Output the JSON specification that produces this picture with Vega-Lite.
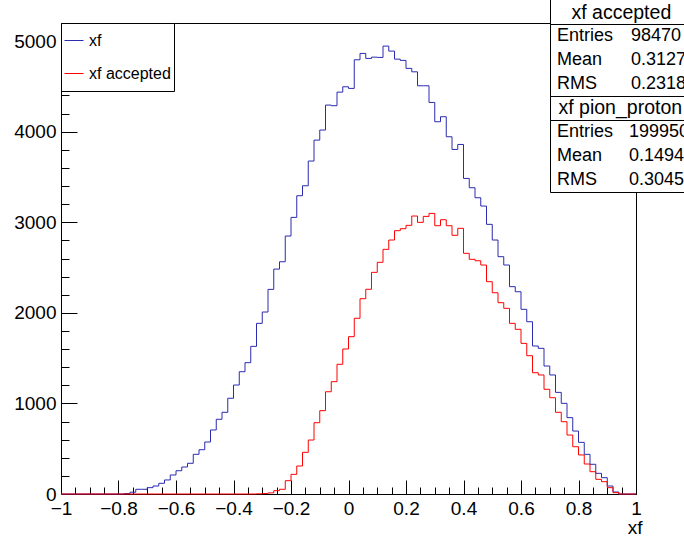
{
  "$schema": "https://vega.github.io/schema/vega-lite/v6.json",
  "width": 575,
  "height": 471,
  "autosize": {"type": "none"},
  "padding": {"left": 61, "top": 23, "right": 48, "bottom": 43},
  "background": "white",
  "config": {"font": "Liberation Sans", "view": {"stroke": "black", "strokeWidth": 1}},
  "data": {"values": [
    {"x": -1, "all": 0, "acc": 0}, {"x": -0.98, "all": 0, "acc": 0}, {"x": -0.96, "all": 0, "acc": 0}, {"x": -0.94, "all": 0, "acc": 0},
    {"x": -0.92, "all": 0, "acc": 0}, {"x": -0.9, "all": 0, "acc": 0}, {"x": -0.88, "all": 0, "acc": 0}, {"x": -0.86, "all": 0, "acc": 0},
    {"x": -0.84, "all": 0, "acc": 0}, {"x": -0.82, "all": 0, "acc": 0}, {"x": -0.8, "all": 0, "acc": 0}, {"x": -0.78, "all": 5, "acc": 0},
    {"x": -0.76, "all": 20, "acc": 0}, {"x": -0.74, "all": 52, "acc": 0}, {"x": -0.72, "all": 52, "acc": 0}, {"x": -0.7, "all": 70, "acc": 0},
    {"x": -0.68, "all": 88, "acc": 0}, {"x": -0.66, "all": 118, "acc": 0}, {"x": -0.64, "all": 155, "acc": 0}, {"x": -0.62, "all": 210, "acc": 0},
    {"x": -0.6, "all": 257, "acc": 0}, {"x": -0.58, "all": 298, "acc": 0}, {"x": -0.56, "all": 339, "acc": 0}, {"x": -0.54, "all": 438, "acc": 0},
    {"x": -0.52, "all": 489, "acc": 0}, {"x": -0.5, "all": 574, "acc": 0}, {"x": -0.48, "all": 707, "acc": 0}, {"x": -0.46, "all": 825, "acc": 0},
    {"x": -0.44, "all": 902, "acc": 0}, {"x": -0.42, "all": 1057, "acc": 0}, {"x": -0.4, "all": 1203, "acc": 0}, {"x": -0.38, "all": 1350, "acc": 0},
    {"x": -0.36, "all": 1450, "acc": 0}, {"x": -0.34, "all": 1630, "acc": 0}, {"x": -0.32, "all": 1884, "acc": 2}, {"x": -0.3, "all": 2009, "acc": 5},
    {"x": -0.28, "all": 2259, "acc": 12}, {"x": -0.26, "all": 2483, "acc": 37}, {"x": -0.24, "all": 2564, "acc": 52}, {"x": -0.22, "all": 2848, "acc": 147},
    {"x": -0.2, "all": 3054, "acc": 217}, {"x": -0.18, "all": 3293, "acc": 309}, {"x": -0.16, "all": 3403, "acc": 460}, {"x": -0.14, "all": 3676, "acc": 596},
    {"x": -0.12, "all": 3907, "acc": 787}, {"x": -0.1, "all": 4018, "acc": 920}, {"x": -0.08, "all": 4294, "acc": 1129}, {"x": -0.06, "all": 4287, "acc": 1240},
    {"x": -0.04, "all": 4437, "acc": 1432}, {"x": -0.02, "all": 4496, "acc": 1601}, {"x": 0, "all": 4478, "acc": 1737}, {"x": 0.02, "all": 4794, "acc": 1940},
    {"x": 0.04, "all": 4864, "acc": 2156}, {"x": 0.06, "all": 4809, "acc": 2260}, {"x": 0.08, "all": 4823, "acc": 2447}, {"x": 0.1, "all": 4820, "acc": 2558},
    {"x": 0.12, "all": 4945, "acc": 2701}, {"x": 0.14, "all": 4890, "acc": 2804}, {"x": 0.16, "all": 4801, "acc": 2907}, {"x": 0.18, "all": 4787, "acc": 2929},
    {"x": 0.2, "all": 4699, "acc": 2966}, {"x": 0.22, "all": 4661, "acc": 3069}, {"x": 0.24, "all": 4507, "acc": 2999}, {"x": 0.26, "all": 4507, "acc": 3065},
    {"x": 0.28, "all": 4323, "acc": 3098}, {"x": 0.3, "all": 4110, "acc": 2962}, {"x": 0.32, "all": 4165, "acc": 3028}, {"x": 0.34, "all": 3944, "acc": 2962},
    {"x": 0.36, "all": 3804, "acc": 2856}, {"x": 0.38, "all": 3859, "acc": 2933}, {"x": 0.4, "all": 3484, "acc": 2657}, {"x": 0.42, "all": 3381, "acc": 2591},
    {"x": 0.44, "all": 3271, "acc": 2575}, {"x": 0.46, "all": 3179, "acc": 2528}, {"x": 0.48, "all": 2977, "acc": 2344}, {"x": 0.5, "all": 2804, "acc": 2222},
    {"x": 0.52, "all": 2620, "acc": 2112}, {"x": 0.54, "all": 2528, "acc": 2050}, {"x": 0.56, "all": 2289, "acc": 1884}, {"x": 0.58, "all": 2233, "acc": 1818},
    {"x": 0.6, "all": 2039, "acc": 1663}, {"x": 0.62, "all": 1902, "acc": 1527}, {"x": 0.64, "all": 1634, "acc": 1339}, {"x": 0.66, "all": 1608, "acc": 1314},
    {"x": 0.68, "all": 1413, "acc": 1156}, {"x": 0.7, "all": 1314, "acc": 1063}, {"x": 0.72, "all": 1122, "acc": 902}, {"x": 0.74, "all": 1001, "acc": 798},
    {"x": 0.76, "all": 843, "acc": 651}, {"x": 0.78, "all": 695, "acc": 522}, {"x": 0.8, "all": 570, "acc": 431}, {"x": 0.82, "all": 438, "acc": 331},
    {"x": 0.84, "all": 328, "acc": 246}, {"x": 0.86, "all": 228, "acc": 162}, {"x": 0.88, "all": 180, "acc": 136}, {"x": 0.9, "all": 88, "acc": 70},
    {"x": 0.92, "all": 22, "acc": 15}, {"x": 0.94, "all": 0, "acc": 0}, {"x": 0.96, "all": 0, "acc": 0}, {"x": 0.98, "all": 0, "acc": 0},
    {"x": 1, "all": 0, "acc": 0}
  ]},
  "layer": [
    {
      "mark": {"type": "line", "interpolate": "step-after", "strokeWidth": 1},
      "encoding": {
        "x": {"field": "x", "type": "quantitative",
          "scale": {"domain": [-1, 1], "nice": false, "zero": false},
          "axis": {"orient": "bottom", "values": [-1, -0.8, -0.6, -0.4, -0.2, 0, 0.2, 0.4, 0.6, 0.8, 1], "format": "~g",
            "tickSize": -14, "tickColor": "black", "domainColor": "black", "grid": false,
            "labelFontSize": 19, "labelColor": "black", "labelPadding": 19, "labelFlush": false, "labelOverlap": false,
            "title": "xf", "titleFontSize": 19, "titleFontWeight": "normal", "titleColor": "black",
            "titleAnchor": "end", "titleAlign": "right", "titleBaseline": "alphabetic", "titleX": 581, "titleY": 39}},
        "y": {"field": "all", "type": "quantitative",
          "scale": {"domain": [0, 5200], "nice": false},
          "axis": {"orient": "left", "values": [0, 1000, 2000, 3000, 4000, 5000], "format": "d",
            "tickSize": -16, "tickColor": "black", "domainColor": "black", "grid": false,
            "labelFontSize": 19, "labelColor": "black", "labelPadding": 21, "title": null}},
        "color": {"datum": "xf", "type": "nominal",
          "scale": {"domain": ["xf", "xf accepted"], "range": ["#2b2bb0", "#ff0000"]},
          "legend": {"orient": "none", "legendX": 0, "legendY": 0, "title": null,
            "symbolType": "stroke", "symbolSize": 361, "symbolStrokeWidth": 1,
            "labelFontSize": 16, "labelOffset": 5, "labelColor": "black",
            "clipHeight": 29, "rowPadding": 4, "padding": 3,
            "strokeColor": "black", "fillColor": "white"}}
      }
    },
    {
      "mark": {"type": "line", "interpolate": "step-after", "strokeWidth": 1},
      "encoding": {
        "x": {"field": "x", "type": "quantitative",
          "axis": {"orient": "bottom", "values": [-1, -0.95, -0.9, -0.85, -0.8, -0.75, -0.7, -0.65, -0.6, -0.55, -0.5, -0.45, -0.4, -0.35, -0.3, -0.25, -0.2, -0.15, -0.1, -0.05, 0, 0.05, 0.1, 0.15, 0.2, 0.25, 0.3, 0.35, 0.4, 0.45, 0.5, 0.55, 0.6, 0.65, 0.7, 0.75, 0.8, 0.85, 0.9, 0.95, 1],
            "tickSize": -7, "tickColor": "black", "labels": false, "domain": false, "grid": false, "title": null}},
        "y": {"field": "acc", "type": "quantitative",
          "axis": {"orient": "left", "values": [0, 200, 400, 600, 800, 1000, 1200, 1400, 1600, 1800, 2000, 2200, 2400, 2600, 2800, 3000, 3200, 3400, 3600, 3800, 4000, 4200, 4400, 4600, 4800, 5000, 5200],
            "tickSize": -8, "tickColor": "black", "labels": false, "domain": false, "grid": false, "title": null}},
        "color": {"datum": "xf accepted", "type": "nominal"}
      }
    },
    {
      "data": {"values": [{"item": "xf accepted"}]},
      "mark": {"type": "point", "opacity": 0},
      "encoding": {
        "shape": {"field": "item", "type": "nominal",
          "legend": {"orient": "none", "legendX": 489, "legendY": -40, "title": null,
            "clipHeight": 20, "symbolSize": 0, "symbolOpacity": 0, "symbolStrokeWidth": 0, "labelOffset": -18,
            "labelFontSize": 19.5, "labelColor": "black", "labelLimit": 400,
            "padding": 20, "strokeColor": "black", "fillColor": "white"}}
      }
    },
    {
      "data": {"values": [{"item": "xf pion_proton"}]},
      "mark": {"type": "point", "opacity": 0},
      "encoding": {
        "shape": {"field": "item", "type": "nominal",
          "legend": {"orient": "none", "legendX": 489, "legendY": 55, "title": null,
            "clipHeight": 20, "symbolSize": 0, "symbolOpacity": 0, "symbolStrokeWidth": 0, "labelOffset": -31,
            "labelFontSize": 19.5, "labelColor": "black", "labelLimit": 400,
            "padding": 20, "strokeColor": "black", "fillColor": "white"}}
      }
    },
    {
      "data": {"values": [{"item": "Entries"}, {"item": "Mean"}, {"item": "RMS"}, {"item": "98470"}, {"item": "0.3127"}, {"item": "0.2318"}]},
      "mark": {"type": "point", "opacity": 0},
      "encoding": {
        "shape": {"field": "item", "type": "nominal", "sort": null,
          "legend": {"orient": "none", "legendX": 489, "legendY": 1, "title": null,
            "columns": 2, "columnPadding": 12, "rowPadding": 4, "clipHeight": 20, "gridAlign": "all",
            "symbolSize": 0, "symbolOpacity": 0, "symbolStrokeWidth": 0, "labelOffset": -13,
            "labelFontSize": 18, "labelColor": "black", "labelLimit": 300,
            "padding": 2, "strokeColor": "black", "fillColor": "white"}}
      }
    },
    {
      "data": {"values": [{"item": "Entries"}, {"item": "Mean"}, {"item": "RMS"}, {"item": "199950"}, {"item": "0.1494"}, {"item": "0.3045"}]},
      "mark": {"type": "point", "opacity": 0},
      "encoding": {
        "shape": {"field": "item", "type": "nominal", "sort": null,
          "legend": {"orient": "none", "legendX": 489, "legendY": 97, "title": null,
            "columns": 2, "columnPadding": 6, "rowPadding": 4, "clipHeight": 20, "gridAlign": "all",
            "symbolSize": 0, "symbolOpacity": 0, "symbolStrokeWidth": 0, "labelOffset": -13,
            "labelFontSize": 18, "labelColor": "black", "labelLimit": 300,
            "padding": 2, "strokeColor": "black", "fillColor": "white"}}
      }
    }
  ],
  "resolve": {"scale": {"shape": "independent"}, "axis": {"x": "independent", "y": "independent"}}
}
